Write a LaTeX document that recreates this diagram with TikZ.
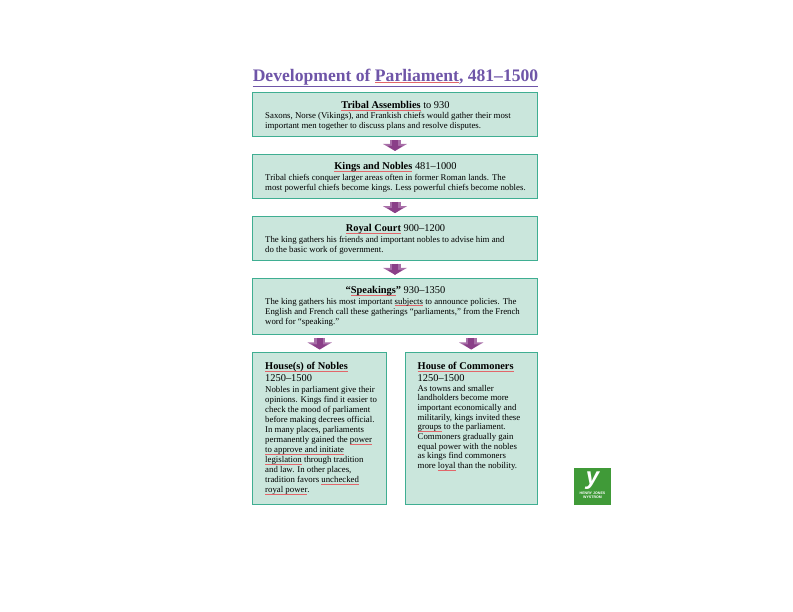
\documentclass[tikz,border=0pt]{standalone}
\usepackage{xcolor}
\usepackage{fontspec}
\setmainfont{Liberation Serif}
\setsansfont{Liberation Sans}
\usepackage{tikz}
\usetikzlibrary{calc}
\usetikzlibrary{arrows.meta}
\usetikzlibrary{positioning}
\definecolor{boxfill}{HTML}{CAE6DC}
\definecolor{boxline}{HTML}{3FAE92}
\definecolor{titlecol}{HTML}{6F55A8}
\definecolor{arrowcol}{HTML}{8A3F88}
\definecolor{arrowlight}{HTML}{A86FA8}
\definecolor{ulred}{HTML}{E2666A}
\definecolor{logocol}{HTML}{409A38}
\newcommand{\redul}[1]{\setbox0\hbox{#1}\rlap{\color{ulred}\rule[-2pt]{\wd0}{1pt}}\box0\relax}
\tikzset{
  stagebox/.style={rectangle, draw=boxline, fill=boxfill, line width=1pt, outer sep=0pt, minimum width=285pt, anchor=north west, inner sep=0pt},
  bodytext/.style={align=left, anchor=north west, inner sep=0pt, font=\fontsize{8.8}{10}\selectfont},
  headtext/.style={inner sep=0pt, font=\fontsize{10.4}{11}\selectfont},
  blockarrow/.style={arrowlight, line width=11pt, -{Triangle[width=24pt,length=7pt]}, shorten <=3.5pt, shorten >=3.5pt,
    postaction={draw=arrowcol, line width=6pt, -{Triangle[width=15pt,length=5pt]}, shorten <=3.5pt, shorten >=3.5pt}}
}
\begin{document}
\begin{tikzpicture}[x=1pt, y=-1pt]
\useasboundingbox (0,0) rectangle (793,612);
\node [inner sep=0pt, text=titlecol, font=\fontsize{17.6}{20}\selectfont\bfseries] (title) at (395.5, 77) {Development of \redul{Parliament}, 481--1500};
\coordinate (ruleL) at (252.5, 86.3);
\coordinate (ruleR) at (538, 86.3);
\draw [titlecol, line width=0.8pt] (ruleL) -- (ruleR);
% boxes
\node [stagebox, minimum height=44pt] (tribal) at (252.5, 92.8) {};
\node [stagebox, minimum height=44pt] (kings) at (252.5, 154.4) {};
\node [stagebox, minimum height=43.5pt] (court) at (252.5, 216.6) {};
\node [stagebox, minimum height=56pt] (speak) at (252.5, 278.3) {};
\node [stagebox, minimum width=134.3pt, minimum height=151.3pt] (nobles) at (252.5, 353) {};
\node [stagebox, minimum width=132.5pt, minimum height=151.3pt] (commons) at (405, 353) {};
% arrows
\draw [blockarrow] (tribal.south) -- (kings.north);
\draw [blockarrow] (kings.south) -- (court.north);
\draw [blockarrow] (court.south) -- (speak.north);
\draw [blockarrow] (speak.south -| nobles.north) -- (nobles.north);
\draw [blockarrow] (speak.south -| commons.north) -- (commons.north);
% text
\node [headtext] (tribalH) at (395.5, 106) {\textbf{\redul{Tribal Assemblies}} to 930};
\node [bodytext] (tribalB) at (265, 112.5) {Saxons, Norse (Vikings), and Frankish chiefs would gather their most\\important men together to discuss plans and resolve disputes.};
\node [headtext] (kingsH) at (395.5, 167.5) {\textbf{\redul{Kings and Nobles}} 481--1000};
\node [bodytext] (kingsB) at (265, 174) {Tribal chiefs conquer larger areas often in former Roman lands. The\\most powerful chiefs become kings. Less powerful chiefs become nobles.};
\node [headtext] (courtH) at (395.5, 229.5) {\textbf{\redul{Royal Court}} 900--1200};
\node [bodytext] (courtB) at (265, 236) {The king gathers his friends and important nobles to advise him and\\do the basic work of government.};
\node [headtext] (speakH) at (395.5, 291.5) {\textbf{``\redul{Speakings}''} 930--1350};
\node [bodytext] (speakB) at (265, 298) {The king gathers his most important \redul{subjects} to announce policies. The\\English and French call these gatherings ``parliaments,'' from the French\\word for ``speaking.''};
\node [bodytext, font=\fontsize{10.4}{12.3}\selectfont] (noblesH) at (265, 362) {\textbf{\redul{House(s) of Nobles}}\\1250--1500};
\node [bodytext] (noblesB) at (265, 386.5) {Nobles in parliament give their\\opinions. Kings find it easier to\\check the mood of parliament\\before making decrees official.\\In many places, parliaments\\permanently gained the \redul{power}\\\redul{to approve and initiate}\\\redul{legislation} through tradition\\and law. In other places,\\tradition favors \redul{unchecked}\\\redul{royal power}.};
\node [bodytext, font=\fontsize{10.4}{12.3}\selectfont] (commonsH) at (417.5, 362) {\textbf{\redul{House of Commoners}}\\1250--1500};
\node [bodytext, font=\fontsize{8.8}{9.65}\selectfont] (commonsB) at (417.5, 385) {As towns and smaller\\landholders become more\\important economically and\\militarily, kings invited these\\\redul{groups} to the parliament.\\Commoners gradually gain\\equal power with the nobles\\as kings find commoners\\more \redul{loyal} than the nobility.};
% logo
\node [rectangle, fill=logocol, minimum width=36.5pt, minimum height=36.5pt, inner sep=0pt] (logo) at (592.5, 486.5) {};
\node [inner sep=0pt, text=white, font=\fontsize{24}{24}\selectfont\bfseries\sffamily\itshape] (logoY) at (592.5, 481) {y};
\node [inner sep=0pt, text=white, align=center, font=\fontsize{3.6}{4.4}\selectfont\bfseries\sffamily] (logoT) at (592.5, 495.5) {HENRY JONES\\WYSTROM};
\end{tikzpicture}
\end{document}
